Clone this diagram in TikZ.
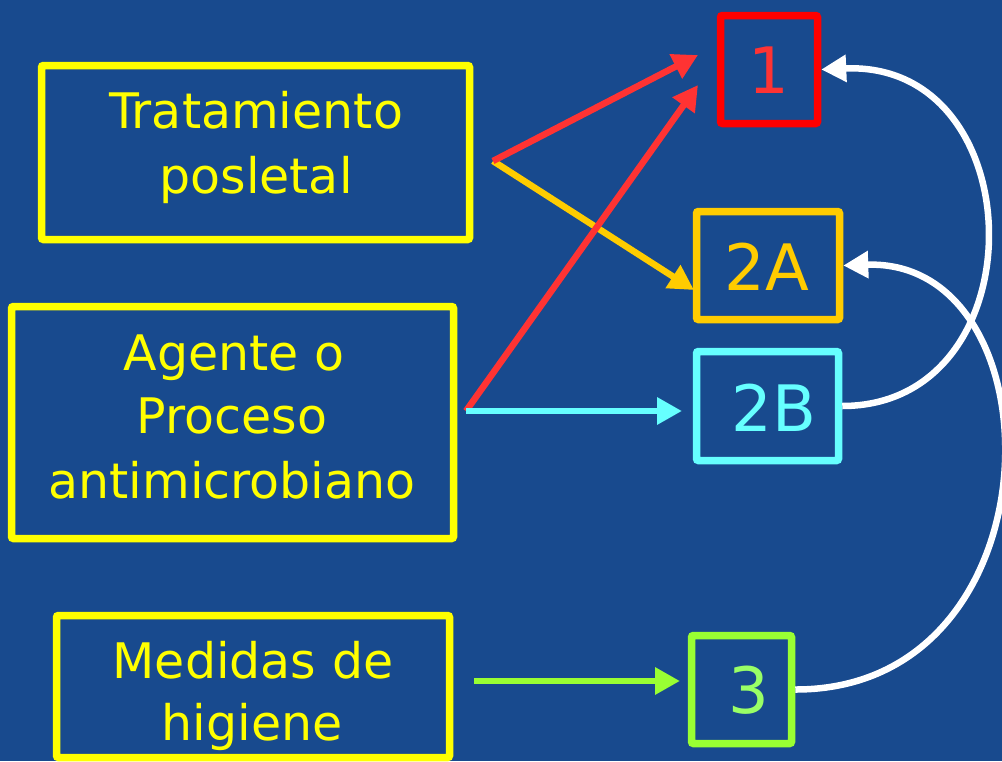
\documentclass[tikz,border=0pt]{standalone}
\usepackage{fontspec}
\setmainfont{DejaVu Sans}
\usetikzlibrary{arrows.meta}
\definecolor{bg}{RGB}{24,74,142}
\definecolor{yel}{RGB}{255,255,0}
\definecolor{redbox}{RGB}{255,0,0}
\definecolor{redarrow}{RGB}{255,51,51}
\definecolor{orng}{RGB}{255,204,0}
\definecolor{cyn}{RGB}{102,255,255}
\definecolor{grn}{RGB}{153,255,51}
\definecolor{grntext}{RGB}{153,255,102}
\begin{document}
\begin{tikzpicture}[x=1pt,y=-1pt,
  box/.style={draw, line width=7.5pt, rounded corners=2pt, inner sep=0pt},
  bigtxt/.style={text=yel, font=\fontsize{49}{60}\selectfont, anchor=base, inner sep=0pt},
  numtxt/.style={font=\fontsize{64}{70}\selectfont, anchor=base, inner sep=0pt},
  arr/.style={line width=6.5pt, -{Triangle[length=25pt,width=26pt]}},
]
\useasboundingbox (0,0) rectangle (1002,761);
\fill[bg] (0,0) rectangle (1002,761);

% left boxes
\node[box, draw=yel, minimum width=428pt, minimum height=174pt] (trat) at (255.5,152.5) {};
\node[box, draw=yel, minimum width=442pt, minimum height=232pt] (agen) at (232.5,422.5) {};
\node[box, draw=yel, minimum width=393pt, minimum height=142pt] (medi) at (253,686.5) {};

\node[bigtxt] (t1) at (256,128) {Tratamiento};
\node[bigtxt] (t2) at (256,193) {posletal};
\node[bigtxt] (a1) at (234,370) {Agente o};
\node[bigtxt] (a2) at (232,433) {Proceso};
\node[bigtxt] (a3) at (232,498) {antimicrobiano};
\node[bigtxt] (m1) at (253,678) {Medidas de};
\node[bigtxt] (m2) at (252,740) {higiene};

% right boxes
\node[box, draw=redbox, minimum width=97pt, minimum height=108pt] (b1) at (769,69.5) {};
\node[box, draw=orng, minimum width=143pt, minimum height=108pt] (b2A) at (768,265.5) {};
\node[box, draw=cyn, minimum width=142pt, minimum height=109pt] (b2B) at (767.5,406) {};
\node[box, draw=grn, minimum width=100pt, minimum height=108pt] (b3) at (741.5,689.5) {};

\node[numtxt, text=redarrow] (n1) at (769,93) {1};
\node[numtxt, text=orng] (n2A) at (767,290) {2A};
\node[numtxt, text=cyn] (n2B) at (774,431) {2B};
\node[numtxt, text=grntext] (n3) at (749,713) {3};

% connector end points
\coordinate (tp) at (493,161);
\coordinate (ap) at (466,411);
\coordinate (mp) at (474,681);
\coordinate (tip1a) at (698,55);
\coordinate (tip1b) at (698,85);
\coordinate (tip2A) at (694,290);
\coordinate (tip2B) at (682,411);
\coordinate (tip3) at (680,681);

\draw[arr, orng] (tp) -- (tip2A);
\draw[arr, redarrow] (tp) -- (tip1a);
\draw[arr, redarrow] (ap) -- (tip1b);
\draw[arr, cyn] (ap) -- (tip2B);
\draw[arr, grn] (mp) -- (tip3);

\draw[arr, white] (b2B.east) .. controls (1040,406) and (1035,60) .. (b1.east);
\draw[arr, white] (b3.east) .. controls (1062,690) and (1062,258) .. (b2A.east);
\end{tikzpicture}
\end{document}
